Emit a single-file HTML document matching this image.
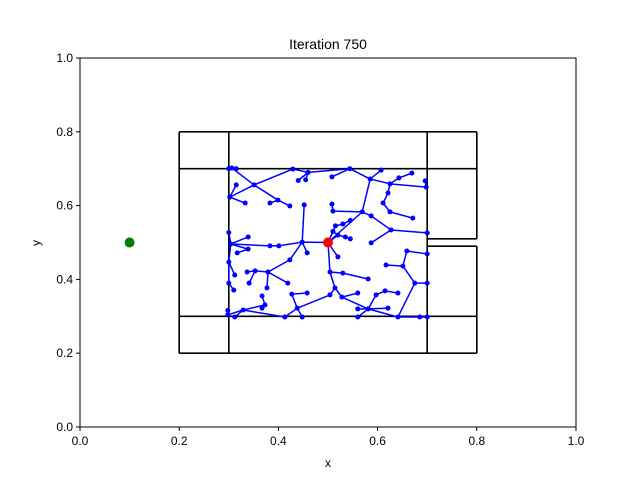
<!DOCTYPE html>
<html><head><meta charset="utf-8"><style>
body{margin:0;background:#fff;}
svg{display:block;font-family:"Liberation Sans","DejaVu Sans",sans-serif;}
</style></head><body>
<svg id="chart" width="640" height="480">
<rect width="640" height="480" fill="#fff"/>
<text x="328" y="49" text-anchor="middle" font-size="14">Iteration 750</text>
<g id="walls"></g>
<g id="tree"></g>
<g id="axes"></g>
<text x="328" y="467" text-anchor="middle" font-size="12">x</text>
<text x="40" y="243" text-anchor="middle" font-size="12" transform="rotate(-90 40 243)">y</text>
</svg>
<script>
const xTicks=[0,0.2,0.4,0.6,0.8,1.0];
const yTicks=[0,0.2,0.4,0.6,0.8,1.0];
const tickLabels=["0.0","0.2","0.4","0.6","0.8","1.0"];
const startPoint=[0.1,0.5];
const goalPoint=[0.5,0.5];
const wallSegments=[
[0.2,0.2,0.8,0.2],[0.2,0.8,0.8,0.8],[0.2,0.2,0.2,0.8],
[0.3,0.2,0.3,0.8],[0.7,0.2,0.7,0.8],
[0.2,0.7,0.8,0.7],[0.2,0.3,0.8,0.3],
[0.8,0.8,0.8,0.51],[0.8,0.49,0.8,0.2],
[0.7,0.51,0.8,0.51],[0.7,0.49,0.8,0.49]];
const nodeX=[0.50,0.448,0.401,0.383,0.304,0.300,0.339,0.317,0.339,0.452,0.458,0.423,0.379,0.353,0.337,0.341,0.377,0.419,0.300,0.312,0.300,0.310,0.504,0.514,0.528,0.581,0.560,0.560,0.621,0.597,0.615,0.641,0.641,0.685,0.700,0.675,0.700,0.651,0.617,0.659,0.700,0.530,0.520,0.581,0.560,0.504,0.438,0.413,0.448,0.427,0.458,0.329,0.298,0.312,0.373,0.367,0.367,0.298,0.569,0.585,0.544,0.460,0.429,0.351,0.302,0.306,0.399,0.423,0.383,0.333,0.315,0.607,0.625,0.698,0.643,0.669,0.696,0.621,0.611,0.625,0.671,0.587,0.627,0.700,0.587,0.508,0.440,0.455,0.510,0.508,0.515,0.530,0.545,0.520,0.535,0.545,0.510,0.300,0.315];
const nodeY=[0.50,0.501,0.491,0.491,0.496,0.527,0.482,0.472,0.515,0.602,0.472,0.453,0.420,0.423,0.420,0.390,0.377,0.390,0.447,0.412,0.390,0.371,0.420,0.377,0.352,0.320,0.298,0.320,0.322,0.358,0.369,0.363,0.298,0.298,0.298,0.390,0.390,0.436,0.439,0.477,0.469,0.417,0.461,0.401,0.363,0.358,0.322,0.298,0.298,0.360,0.363,0.317,0.304,0.298,0.331,0.355,0.322,0.316,0.583,0.672,0.700,0.690,0.699,0.656,0.623,0.702,0.615,0.599,0.607,0.607,0.656,0.696,0.659,0.650,0.675,0.688,0.667,0.634,0.607,0.583,0.566,0.572,0.534,0.526,0.499,0.678,0.668,0.670,0.585,0.604,0.545,0.550,0.560,0.520,0.515,0.510,0.530,0.700,0.700];
const nodeParent=[-1,0,1,2,3,4,4,6,4,1,1,1,11,12,13,13,12,12,4,18,18,20,0,22,23,24,25,25,25,25,29,30,25,32,33,32,35,35,37,37,39,22,0,41,24,23,45,46,46,46,49,47,51,51,51,54,54,52,0,58,59,60,61,62,63,63,63,66,66,64,64,59,59,72,72,74,73,72,77,78,79,58,81,82,82,60,61,61,58,88,0,90,91,0,93,94,93,65,65];

const L=80,R=576,T=58,B=427;
const sx=v=>L+(v-0)/(1-0)*(R-L);
const sy=v=>B-(v-0)/(1-0)*(B-T);
const NS="http://www.w3.org/2000/svg";
function mk(tag,attrs,parent){const e=document.createElementNS(NS,tag);for(const k in attrs)e.setAttribute(k,attrs[k]);parent.appendChild(e);return e;}
const walls=document.getElementById('walls'),tree=document.getElementById('tree'),axes=document.getElementById('axes');
wallSegments.forEach(s=>{
 const l=mk('line',{x1:sx(s[0]),y1:sy(s[1]),x2:sx(s[2]),y2:sy(s[3]),stroke:'#000','stroke-width':1.6},walls);
 
 
});
nodeX.forEach((x,i)=>{
 const p=nodeParent[i]; if(p<0)return;
 const l=mk('line',{x1:sx(nodeX[p]),y1:sy(nodeY[p]),x2:sx(x),y2:sy(nodeY[i]),stroke:'#0000ff','stroke-width':1.5},tree);
 
 
});
nodeX.forEach((x,i)=>{
 const c=mk('circle',{cx:sx(x),cy:sy(nodeY[i]),r:2.5,fill:'#0000ff'},tree);
 
 
});
const g=mk('circle',{cx:sx(startPoint[0]),cy:sy(startPoint[1]),r:5,fill:'#008000'},tree);


const r=mk('circle',{cx:sx(goalPoint[0]),cy:sy(goalPoint[1]),r:5,fill:'#ff0000'},tree);


const fr=mk('rect',{x:L,y:T,width:R-L,height:B-T,fill:'none',stroke:'#000','stroke-width':1},axes);


xTicks.forEach((v,i)=>{
 mk('line',{x1:sx(v),y1:B,x2:sx(v),y2:B+4,stroke:'#000'},axes);
 const t=mk('text',{x:sx(v),y:B+18,'text-anchor':'middle','font-size':12},axes);
 t.textContent=tickLabels[i];
 
 
});
yTicks.forEach((v,i)=>{
 mk('line',{x1:L-4,y1:sy(v),x2:L,y2:sy(v),stroke:'#000'},axes);
 const t=mk('text',{x:L-7,y:sy(v)+4,'text-anchor':'end','font-size':12},axes);
 t.textContent=tickLabels[i];
 
 
});
</script>
</body></html>
